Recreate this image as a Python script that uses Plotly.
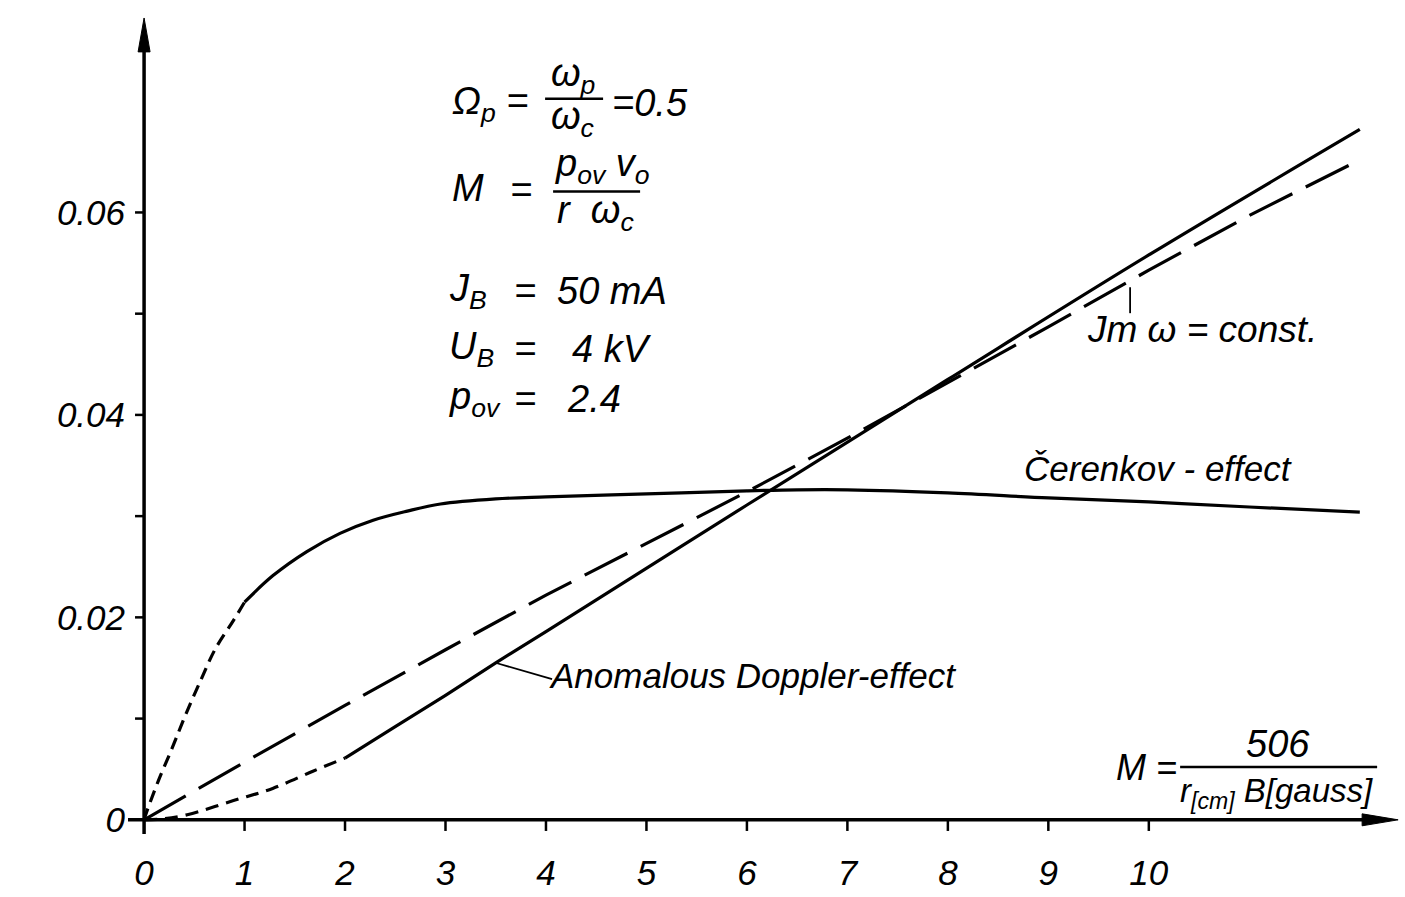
import plotly.graph_objects as go

# ---- data -----------------------------------------------------------------
# Cerenkov effect (dashed start up to M = 1, then solid)
cer_start_x = [0.0, 0.03, 0.14, 0.28, 0.41, 0.56, 0.71, 0.89, 1.0]
cer_start_y = [0.0, 0.0009, 0.0038, 0.0071, 0.0103, 0.0137, 0.0169, 0.0197, 0.0215]
cer_x = [1.0, 1.28, 1.62, 1.95, 2.28, 2.62, 2.95, 3.5, 4.0, 5.0, 6.0, 6.5, 7.0, 8.0, 9.0,
         10.0, 11.0, 12.1]
cer_y = [0.0215, 0.0241, 0.0265, 0.0283, 0.0296, 0.0305, 0.0312, 0.0317, 0.0319, 0.0322,
         0.0325, 0.0326, 0.0326, 0.0323, 0.0318, 0.0314, 0.0309, 0.0304]

# Anomalous Doppler effect (dashed start up to M = 2, then solid)
dop_start_x = [0.0, 0.2, 0.43, 0.89, 1.28, 1.68, 2.0]
dop_start_y = [0.0, 0.0001, 0.0005, 0.0019, 0.0031, 0.0048, 0.0061]
dop_x = [2.0, 2.5, 3.0, 3.5, 4.0, 6.0, 8.0, 10.0, 12.1]
dop_y = [0.0061, 0.0092, 0.0123, 0.0155, 0.0186, 0.0311, 0.0435, 0.0558, 0.0682]

# Jm omega = const.
const_x = [0, 1, 2, 3, 4, 5, 6, 7, 8, 9, 10, 11, 12.1]
const_y = [0.0, 0.0057, 0.0113, 0.0168, 0.0222, 0.0273, 0.0324, 0.0377, 0.0432,
           0.0487, 0.0543, 0.0597, 0.0652]

x_ticks = [0, 1, 2, 3, 4, 5, 6, 7, 8, 9, 10]
x_tick_text = ["0", "1", "2", "3", "4", "5", "6", "7", "8", "9", "10"]
y_ticks = [0.0, 0.02, 0.04, 0.06]
y_tick_text = ["0", "0.02", "0.04", "0.06"]
y_minor = [0.01, 0.03, 0.05]

# ---- layout helpers (pixel -> data coordinates) ----------------------------
X0, SX = 144.0, 100.47
Y0, SY = 822.0, 10150.0
FONT = "Liberation Sans"


def dx(p):
    return (p - X0) / SX


def dy(p):
    return (Y0 - p) / SY


def txt(xp, yp, s, size=38, anchor="left"):
    return dict(x=dx(xp), y=dy(yp), xref="x", yref="y", text=s, showarrow=False,
                xanchor=anchor, yanchor="middle",
                font=dict(family=FONT, size=size, color="black", style="italic"))


def seg(x1p, y1p, x2p, y2p, w=2.5):
    return dict(type="line", xref="x", yref="y", x0=dx(x1p), y0=dy(y1p),
                x1=dx(x2p), y1=dy(y2p), line=dict(color="black", width=w))


LW = 3.2
fig = go.Figure()
fig.add_trace(go.Scatter(x=cer_start_x, y=cer_start_y, mode="lines",
                         line=dict(color="black", width=LW, dash="12px,7px", shape="spline")))
fig.add_trace(go.Scatter(x=cer_x, y=cer_y, mode="lines",
                         line=dict(color="black", width=LW, shape="spline")))
fig.add_trace(go.Scatter(x=dop_start_x, y=dop_start_y, mode="lines",
                         line=dict(color="black", width=LW, dash="13px,8px", shape="spline")))
fig.add_trace(go.Scatter(x=dop_x, y=dop_y, mode="lines",
                         line=dict(color="black", width=LW, shape="spline")))
fig.add_trace(go.Scatter(x=const_x, y=const_y, mode="lines",
                         line=dict(color="black", width=LW, dash="48px,15px")))

shapes = []
# axes
shapes.append(dict(type="line", xref="x", yref="y", x0=0, y0=-0.0014, x1=0, y1=0.076,
                   line=dict(color="black", width=3.5)))
shapes.append(dict(type="line", xref="x", yref="y", x0=-0.16, y0=0, x1=12.2, y1=0,
                   line=dict(color="black", width=3.5)))
# arrow heads
shapes.append(dict(type="path", xref="x", yref="y",
                   path=f"M {dx(138)} {dy(52)} L {dx(144)} {dy(18)} L {dx(150)} {dy(52)} Z",
                   fillcolor="black", line=dict(color="black", width=1)))
shapes.append(dict(type="path", xref="x", yref="y",
                   path=f"M {dx(1362)} {dy(816)} L {dx(1398)} {dy(822)} L {dx(1362)} {dy(828)} Z",
                   fillcolor="black", line=dict(color="black", width=1)))
# tick marks
for t in x_ticks[1:]:
    shapes.append(dict(type="line", xref="x", yref="y", x0=t, y0=0, x1=t, y1=-0.0011,
                       line=dict(color="black", width=2.5)))
for t in y_ticks[1:] + y_minor:
    shapes.append(dict(type="line", xref="x", yref="y", x0=-0.09, y0=t, x1=0, y1=t,
                       line=dict(color="black", width=2.5)))

ann = []
# y-axis title: Jm w / w_c
ann.append(txt(10, 45, "Jm", 36))
ann.append(txt(94, 27, "ω", 36, "center"))
shapes.append(seg(72, 43, 116, 43))
ann.append(txt(96, 64, "ω<sub>c</sub>", 36, "center"))

# parameter block
ann.append(txt(450, 104, "Ω<sub>p</sub> =", 38))
ann.append(txt(573, 76, "ω<sub>p</sub>", 38, "center"))
shapes.append(seg(545, 99, 603, 99))
ann.append(txt(572, 119, "ω<sub>c</sub>", 38, "center"))
ann.append(txt(610, 103, "=0.5", 38))

ann.append(txt(450, 188, "M", 38))
ann.append(txt(508, 190, "=", 38))
ann.append(txt(553, 166, "p<sub>ov</sub> v<sub>o</sub>", 38))
shapes.append(seg(553, 192, 640, 192))
ann.append(txt(555, 214, "r  ω<sub>c</sub>", 38))

ann.append(txt(447, 292, "J<sub>B</sub>", 38))
ann.append(txt(512, 292, "=", 38))
ann.append(txt(555, 292, "50 mA", 38))
ann.append(txt(447, 350, "U<sub>B</sub>", 38))
ann.append(txt(512, 350, "=", 38))
ann.append(txt(570, 350, "4 kV", 38))
ann.append(txt(447, 400, "p<sub>ov</sub>", 38))
ann.append(txt(512, 400, "=", 38))
ann.append(txt(565, 400, "2.4", 38))

# curve labels
ann.append(txt(1085, 330, "Jm ω = const.", 37))
shapes.append(seg(1130, 288, 1130, 314, 1.8))
ann.append(txt(1022, 470, "Čerenkov - effect", 35))
ann.append(txt(547, 677, "Anomalous Doppler-effect", 35))
shapes.append(seg(497, 665, 552, 681, 1.8))

# x-axis title: M = 506 / (r[cm] B[gauss])
ann.append(txt(1114, 770, "M =", 36))
ann.append(txt(1278, 746, "506", 38, "center"))
shapes.append(seg(1180, 769, 1377, 769))
ann.append(txt(1178, 795, "r<sub>[cm]</sub> B[gauss]", 33))

fig.update_layout(
    width=1405, height=897,
    margin=dict(l=128, r=5, t=10, b=60),
    paper_bgcolor="white", plot_bgcolor="white",
    showlegend=False,
    shapes=shapes, annotations=ann,
    xaxis=dict(range=[-0.16, 12.5], showgrid=False, zeroline=False, showline=False,
               tickmode="array", tickvals=x_ticks, ticktext=x_tick_text, ticks="",
               ticklabelstandoff=14,
               tickfont=dict(family=FONT, size=35, color="black", style="italic")),
    yaxis=dict(range=[-0.0015, 0.0800], showgrid=False, zeroline=False, showline=False,
               tickmode="array", tickvals=y_ticks, ticktext=y_tick_text, ticks="",
               ticklabelstandoff=2,
               tickfont=dict(family=FONT, size=35, color="black", style="italic")),
)

fig.write_html("out.html")
